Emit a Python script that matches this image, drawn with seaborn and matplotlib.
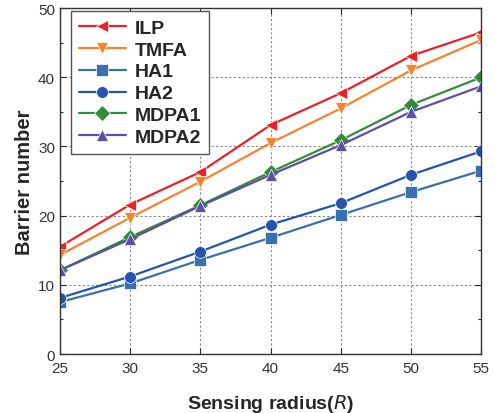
import matplotlib
matplotlib.use("Agg")
import matplotlib.pyplot as plt
import seaborn as sns
import pandas as pd
from matplotlib.ticker import MultipleLocator

radius = [25, 30, 35, 40, 45, 50, 55]
ilp = [15.5, 21.6, 26.3, 33.1, 37.7, 43.1, 46.5]
tmfa = [14.3, 19.7, 24.9, 30.5, 35.5, 41.0, 45.4]
ha1 = [7.5, 10.2, 13.6, 16.8, 20.1, 23.4, 26.5]
ha2 = [8.1, 11.2, 14.8, 18.7, 21.8, 25.9, 29.3]
mdpa1 = [12.1, 16.9, 21.5, 26.3, 30.9, 36.0, 40.0]
mdpa2 = [12.1, 16.6, 21.4, 25.9, 30.2, 35.0, 38.7]

names = ["ILP", "TMFA", "HA1", "HA2", "MDPA1", "MDPA2"]
series = [ilp, tmfa, ha1, ha2, mdpa1, mdpa2]
colors = ["#ec2127", "#f7832f", "#3a6fb0", "#2454ab", "#368a3c", "#5e4ea6"]
markers = ["<", "v", "s", "o", "D", "^"]

rows = []
for name, vals in zip(names, series):
    for r, v in zip(radius, vals):
        rows.append([name, r, v])
df = pd.DataFrame(rows, columns=["Algorithm", "Radius", "Barrier"])

sns.set_style("ticks")
plt.rcParams["font.family"] = ["Liberation Sans", "DejaVu Sans"]

fig = plt.figure(figsize=(4.95, 4.14), dpi=100)
ax = fig.add_axes([0.121, 0.1425, 0.851, 0.8355])

sns.lineplot(
    data=df, x="Radius", y="Barrier", hue="Algorithm", style="Algorithm",
    hue_order=names, style_order=names, palette=colors,
    markers=dict(zip(names, markers)), dashes=False,
    markersize=8.5, linewidth=1.6, markeredgewidth=0.5, ax=ax,
)

ax.set_xlim(25, 55)
ax.set_ylim(0, 50)
ax.xaxis.set_major_locator(MultipleLocator(5))
ax.yaxis.set_major_locator(MultipleLocator(10))
ax.yaxis.set_minor_locator(MultipleLocator(5))
ax.grid(True, which="major", linestyle=(0, (2, 2)), color="#888888", linewidth=0.8)
ax.tick_params(which="both", direction="in", top=True, right=True,
               labelsize=11, labelcolor="#333333", width=0.8)
ax.tick_params(which="major", length=4)
ax.tick_params(axis="x", pad=5)
ax.tick_params(which="minor", length=2.5)
for s in ax.spines.values():
    s.set_linewidth(1.0)
    s.set_color("#333333")

ax.set_xlabel("Sensing radius($\\mathbf{\\mathit{R}}$)", fontsize=14, fontweight="bold", labelpad=12)
ax.set_ylabel("Barrier number", fontsize=14.5, fontweight="bold", labelpad=3)

leg = ax.legend(loc="upper left", bbox_to_anchor=(0.026, 0.992),
                prop={"weight": "bold", "size": 14}, frameon=True, fancybox=False,
                edgecolor="#555555", handlelength=2.4, labelspacing=0.22,
                borderpad=0.42, handletextpad=0.45, framealpha=1, borderaxespad=0)
leg.get_frame().set_linewidth(1.0)

fig.savefig("out.png", dpi=100)
